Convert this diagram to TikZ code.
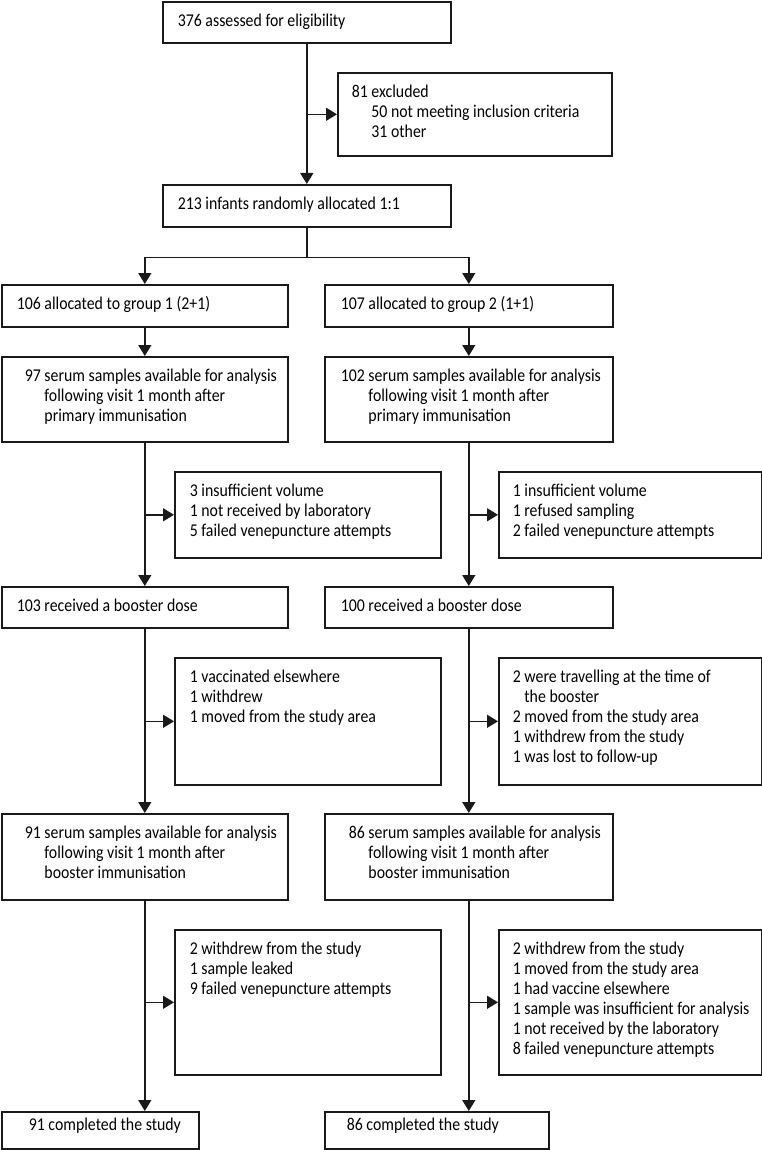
\documentclass[tikz,border=0pt]{standalone}
\usepackage{fontspec}
\setmainfont{Carlito}[FakeStretch=0.88]
\usetikzlibrary{arrows.meta}
\definecolor{ln}{HTML}{1A1A1A}
\newlength\numw
% #1 width, #2 height, #3 left pad, #4 top pad, #5 text
\newcommand{\bxt}[5]{\parbox[c][#2pt][t]{#1pt}{\fontsize{18}{20}\selectfont\settowidth{\numw}{000}\raggedright\leftskip=#3pt\relax\vspace*{#4pt}\strut #5}}
\newcommand{\nm}[1]{\makebox[\numw][r]{#1}}
\newcommand{\hg}{\hspace*{\dimexpr\numw+3.6pt\relax}}
\begin{document}
\begin{tikzpicture}[x=1pt,y=-1pt,
  box/.style={draw=ln, line width=1.6pt, inner sep=0pt, anchor=north west, text=black},
  arr/.style={draw=ln, line width=1.5pt, -{Triangle[length=11pt,width=13pt]}},
  lnk/.style={draw=ln, line width=1.5pt}]
\fill[white] (0,0) rectangle (762,1150);
\useasboundingbox (0,0) rectangle (762,1150);

\node[box] (top) at (162,1) {\bxt{288}{41}{15}{10.5}{376 assessed for eligibility}};
\node[box] (excl) at (337,72) {\bxt{274}{83}{14}{10.5}{81 excluded\\\hphantom{81\ }50 not meeting inclusion criteria\\\hphantom{81\ }31 other}};
\node[box] (alloc) at (162,184) {\bxt{288}{42}{15}{10.5}{213 infants randomly allocated 1:1}};

\node[box] (g1) at (1,284) {\bxt{286}{42}{15}{10.5}{106 allocated to group 1 (2+1)}};
\node[box] (g2) at (324,284) {\bxt{288}{42}{16}{10.5}{107 allocated to group 2 (1+1)}};

\node[box] (s1) at (1,356) {\bxt{286}{85}{15}{10.5}{\nm{97} serum samples available for analysis\\\hg following visit 1 month after\\\hg primary immunisation}};
\node[box] (s2) at (324,356) {\bxt{288}{85}{16}{10.5}{\nm{102} serum samples available for analysis\\\hg following visit 1 month after\\\hg primary immunisation}};

\node[box] (e1) at (174,471) {\bxt{266}{86}{15}{10.5}{3 insufficient volume\\1 not received by laboratory\\5 failed venepuncture attempts}};
\node[box] (e2) at (498,471) {\bxt{263}{86}{14}{10.5}{1 insufficient volume\\1 refused sampling\\2 failed venepuncture attempts}};

\node[box] (b1) at (1,586) {\bxt{286}{41}{15}{10.5}{103 received a booster dose}};
\node[box] (b2) at (324,586) {\bxt{288}{41}{16}{10.5}{100 received a booster dose}};

\node[box] (f1) at (174,657) {\bxt{266}{127}{15}{10.5}{1 vaccinated elsewhere\\1 withdrew\\1 moved from the study area}};
\node[box] (f2) at (498,657) {\bxt{263}{127}{14}{10.5}{2 were travelling at the time of\\\hphantom{2\ }the booster\\2 moved from the study area\\1 withdrew from the study\\1 was lost to follow-up}};

\node[box] (m1) at (1,813) {\bxt{286}{86}{15}{10.5}{\nm{91} serum samples available for analysis\\\hg following visit 1 month after\\\hg booster immunisation}};
\node[box] (m2) at (324,813) {\bxt{288}{86}{16}{10.5}{\nm{86} serum samples available for analysis\\\hg following visit 1 month after\\\hg booster immunisation}};

\node[box] (h1) at (174,929) {\bxt{266}{145}{15}{10.5}{2 withdrew from the study\\1 sample leaked\\9 failed venepuncture attempts}};
\node[box] (h2) at (498,929) {\bxt{263}{145}{14}{10.5}{2 withdrew from the study\\1 moved from the study area\\1 had vaccine elsewhere\\1 sample was insufficient for analysis\\1 not received by the laboratory\\8 failed venepuncture attempts}};

\node[box] (c1) at (1,1111) {\bxt{197}{37}{27}{4.5}{91 completed the study}};
\node[box] (c2) at (324,1111) {\bxt{224}{37}{22}{4.5}{86 completed the study}};

% connectors
\draw[arr] (top.south) -- (alloc.north);
\draw[arr] (top.south |- excl.west) -- (excl.west);
\coordinate (split) at ([yshift=-30pt]alloc.south);
\draw[lnk] (alloc.south) -- (split);
\draw[arr] (split) -| (g1.north);
\draw[arr] (split) -| (g2.north);

\draw[arr] (g1.south) -- (s1.north);
\draw[arr] (g2.south) -- (s2.north);

\draw[arr] (s1.south) -- (b1.north);
\draw[arr] (s1.south |- e1.west) -- (e1.west);
\draw[arr] (s2.south) -- (b2.north);
\draw[arr] (s2.south |- e2.west) -- (e2.west);

\draw[arr] (b1.south) -- (m1.north);
\draw[arr] (b1.south |- f1.west) -- (f1.west);
\draw[arr] (b2.south) -- (m2.north);
\draw[arr] (b2.south |- f2.west) -- (f2.west);

\draw[arr] (m1.south) -- (m1.south |- c1.north);
\draw[arr] (m1.south |- h1.west) -- (h1.west);
\draw[arr] (m2.south) -- (m2.south |- c2.north);
\draw[arr] (m2.south |- h2.west) -- (h2.west);
\end{tikzpicture}
\end{document}
